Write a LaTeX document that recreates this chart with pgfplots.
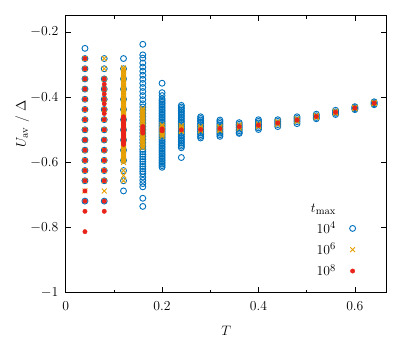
\documentclass[border=0pt]{standalone}
\usepackage{pgfplots}
\pgfplotsset{compat=1.18}
\usetikzlibrary{calc}
\definecolor{cblue}{RGB}{0,114,189}
\definecolor{corange}{RGB}{230,159,0}
\definecolor{cred}{RGB}{232,35,25}
\pgfplotsset{
  bl/.style={only marks, mark=o, mark size=2.6pt, color=cblue, line width=0.8pt},
  og/.style={only marks, mark=x, mark size=3pt, color=corange, line width=0.8pt},
  rd/.style={only marks, mark=*, mark size=1.9pt, color=cred},
}
\begin{document}
\begin{tikzpicture}[font=\fontsize{12.5}{15}\selectfont]
\begin{axis}[
  scale only axis,
  width=281pt, height=242.5pt,
  xmin=0, xmax=0.666, ymin=-1, ymax=-0.15,
  xtick={0,0.2,0.4,0.6}, minor xtick={0.1,0.3,0.5},
  ytick={-1,-0.8,-0.6,-0.4,-0.2},
  major tick length=5pt, minor tick length=2.6pt,
  tick style={line width=0.6pt, black},
  axis line style={line width=0.8pt},
  tick label style={font=\fontsize{12.5}{15}\selectfont},
  xticklabel style={yshift=-4.5pt},
  yticklabel style={xshift=-3pt},
  label style={font=\fontsize{12.5}{15}\selectfont},
  xlabel={$T$}, ylabel={$U_{\mathrm{av}}\ /\ \Delta$},
  xlabel style={at={(rel axis cs:0.5,0)}, anchor=center, yshift=-33pt},
  ylabel style={at={(rel axis cs:0,0.61)}, anchor=center, rotate=0, yshift=38pt},
  legend plot pos=right,
  legend cell align=right,
  legend style={draw=none, fill=none, at={(rel axis cs:1,0)}, anchor=south east,
    xshift=-24pt, yshift=9pt, row sep=3pt, font=\fontsize{12.5}{15}\selectfont,
    nodes={inner xsep=6pt}},
]
\coordinate (BL) at (rel axis cs:0,0);
\coordinate (TR) at (rel axis cs:1,1);
% 10^4
\addplot[bl, forget plot] coordinates {
(0.04,-0.25)(0.04,-0.28125)(0.04,-0.3125)(0.04,-0.34375)(0.04,-0.375)(0.04,-0.40625)(0.04,-0.4375)(0.04,-0.46875)(0.04,-0.5)(0.04,-0.53125)(0.04,-0.5625)(0.04,-0.59375)(0.04,-0.625)(0.04,-0.65625)(0.04,-0.71875)
(0.08,-0.28125)(0.08,-0.3125)(0.08,-0.34375)(0.08,-0.375)(0.08,-0.40625)(0.08,-0.4375)(0.08,-0.46875)(0.08,-0.5)(0.08,-0.53125)(0.08,-0.5625)(0.08,-0.59375)(0.08,-0.625)(0.08,-0.65625)(0.08,-0.71875)
(0.12,-0.28125)(0.12,-0.3125)(0.12,-0.34375)(0.12,-0.375)(0.12,-0.40625)(0.12,-0.4375)(0.12,-0.46875)(0.12,-0.5)(0.12,-0.53125)(0.12,-0.5625)(0.12,-0.59375)(0.12,-0.625)(0.12,-0.65625)(0.12,-0.6875)
(0.16,-0.2375)(0.16,-0.27)(0.16,-0.28)(0.16,-0.295)(0.16,-0.3075)(0.16,-0.32)(0.16,-0.3325)(0.16,-0.345)(0.16,-0.3575)(0.16,-0.37)(0.16,-0.3825)(0.16,-0.395)(0.16,-0.4075)(0.16,-0.42)(0.16,-0.43)(0.16,-0.44)(0.16,-0.45)(0.16,-0.46)(0.16,-0.47)(0.16,-0.48)(0.16,-0.49)(0.16,-0.5)(0.16,-0.51)(0.16,-0.52)(0.16,-0.53)(0.16,-0.54)(0.16,-0.55)(0.16,-0.56)(0.16,-0.5675)(0.16,-0.575)(0.16,-0.5825)(0.16,-0.59)(0.16,-0.5975)(0.16,-0.605)(0.16,-0.6125)(0.16,-0.62)(0.16,-0.6275)(0.16,-0.635)(0.16,-0.645)(0.16,-0.655)(0.16,-0.665)(0.16,-0.675)(0.16,-0.71)(0.16,-0.735)
(0.2,-0.357)(0.2,-0.386)(0.2,-0.395)(0.2,-0.405)(0.2,-0.41)(0.2,-0.415)(0.2,-0.42)(0.2,-0.425)(0.2,-0.43)(0.2,-0.435)(0.2,-0.44)(0.2,-0.445)(0.2,-0.45)(0.2,-0.455)(0.2,-0.46)(0.2,-0.465)(0.2,-0.47)(0.2,-0.475)(0.2,-0.48)(0.2,-0.485)(0.2,-0.49)(0.2,-0.495)(0.2,-0.5)(0.2,-0.505)(0.2,-0.51)(0.2,-0.515)(0.2,-0.52)(0.2,-0.525)(0.2,-0.53)(0.2,-0.535)(0.2,-0.54)(0.2,-0.545)(0.2,-0.55)(0.2,-0.555)(0.2,-0.56)(0.2,-0.565)(0.2,-0.57)(0.2,-0.575)(0.2,-0.58)(0.2,-0.585)(0.2,-0.59)(0.2,-0.595)(0.2,-0.6)(0.2,-0.605)(0.2,-0.61)(0.2,-0.615)
(0.24,-0.425)(0.24,-0.43)(0.24,-0.435)(0.24,-0.44)(0.24,-0.445)(0.24,-0.45)(0.24,-0.455)(0.24,-0.46)(0.24,-0.465)(0.24,-0.47)(0.24,-0.475)(0.24,-0.48)(0.24,-0.485)(0.24,-0.49)(0.24,-0.495)(0.24,-0.5)(0.24,-0.505)(0.24,-0.51)(0.24,-0.515)(0.24,-0.52)(0.24,-0.525)(0.24,-0.53)(0.24,-0.535)(0.24,-0.54)(0.24,-0.545)(0.24,-0.55)(0.24,-0.555)(0.24,-0.585)
(0.28,-0.46)(0.28,-0.465)(0.28,-0.47)(0.28,-0.475)(0.28,-0.48)(0.28,-0.485)(0.28,-0.49)(0.28,-0.495)(0.28,-0.5)(0.28,-0.505)(0.28,-0.51)(0.28,-0.515)(0.28,-0.52)(0.28,-0.525)
(0.32,-0.47)(0.32,-0.475)(0.32,-0.48)(0.32,-0.485)(0.32,-0.49)(0.32,-0.495)(0.32,-0.5)(0.32,-0.505)(0.32,-0.51)(0.32,-0.515)(0.32,-0.52)
(0.36,-0.478)(0.36,-0.483)(0.36,-0.488)(0.36,-0.493)(0.36,-0.498)(0.36,-0.503)(0.36,-0.508)(0.36,-0.511)
(0.4,-0.469)(0.4,-0.474)(0.4,-0.479)(0.4,-0.484)(0.4,-0.489)(0.4,-0.494)(0.4,-0.499)
(0.44,-0.469)(0.44,-0.474)(0.44,-0.479)(0.44,-0.484)(0.44,-0.49)
(0.48,-0.46)(0.48,-0.465)(0.48,-0.47)(0.48,-0.475)(0.48,-0.481)
(0.52,-0.452)(0.52,-0.457)(0.52,-0.462)(0.52,-0.466)
(0.56,-0.44)(0.56,-0.445)(0.56,-0.449)(0.56,-0.453)
(0.6,-0.429)(0.6,-0.432)(0.6,-0.435)(0.6,-0.438)
(0.64,-0.414)(0.64,-0.417)(0.64,-0.42)(0.64,-0.423)
};
% 10^6
\addplot[og, forget plot] coordinates {
(0.04,-0.28125)(0.04,-0.3125)(0.04,-0.34375)(0.04,-0.375)(0.04,-0.40625)(0.04,-0.4375)(0.04,-0.46875)(0.04,-0.5)(0.04,-0.53125)(0.04,-0.5625)(0.04,-0.59375)(0.04,-0.625)(0.04,-0.65625)(0.04,-0.6875)
(0.08,-0.28125)(0.08,-0.3125)(0.08,-0.34375)(0.08,-0.375)(0.08,-0.40625)(0.08,-0.4375)(0.08,-0.46875)(0.08,-0.5)(0.08,-0.53125)(0.08,-0.5625)(0.08,-0.59375)(0.08,-0.625)(0.08,-0.65625)(0.08,-0.6875)
(0.12,-0.31)(0.12,-0.315)(0.12,-0.32)(0.12,-0.325)(0.12,-0.33)(0.12,-0.335)(0.12,-0.34)(0.12,-0.345)(0.12,-0.35)(0.12,-0.355)(0.12,-0.36)(0.12,-0.365)(0.12,-0.37)(0.12,-0.375)(0.12,-0.38)(0.12,-0.385)(0.12,-0.39)(0.12,-0.395)(0.12,-0.4)(0.12,-0.405)(0.12,-0.41)(0.12,-0.415)(0.12,-0.42)(0.12,-0.425)(0.12,-0.43)(0.12,-0.435)(0.12,-0.44)(0.12,-0.445)(0.12,-0.45)(0.12,-0.455)(0.12,-0.46)(0.12,-0.465)(0.12,-0.47)(0.12,-0.475)(0.12,-0.48)(0.12,-0.485)(0.12,-0.49)(0.12,-0.495)(0.12,-0.5)(0.12,-0.505)(0.12,-0.51)(0.12,-0.515)(0.12,-0.52)(0.12,-0.525)(0.12,-0.53)(0.12,-0.535)(0.12,-0.54)(0.12,-0.545)(0.12,-0.55)(0.12,-0.555)(0.12,-0.56)(0.12,-0.565)(0.12,-0.57)(0.12,-0.575)(0.12,-0.58)(0.12,-0.585)(0.12,-0.59)(0.12,-0.595)(0.12,-0.6)(0.12,-0.625)(0.12,-0.64)(0.12,-0.656)
(0.16,-0.435)(0.16,-0.44)(0.16,-0.445)(0.16,-0.45)(0.16,-0.455)(0.16,-0.46)(0.16,-0.465)(0.16,-0.47)(0.16,-0.475)(0.16,-0.48)(0.16,-0.485)(0.16,-0.49)(0.16,-0.495)(0.16,-0.5)(0.16,-0.505)(0.16,-0.51)(0.16,-0.515)(0.16,-0.52)(0.16,-0.525)(0.16,-0.53)(0.16,-0.535)(0.16,-0.54)(0.16,-0.545)(0.16,-0.55)(0.16,-0.555)
(0.2,-0.485)(0.2,-0.49)(0.2,-0.495)(0.2,-0.5)(0.2,-0.505)(0.2,-0.51)(0.2,-0.515)(0.2,-0.52)
(0.24,-0.487)(0.24,-0.492)(0.24,-0.497)(0.24,-0.502)(0.24,-0.505)
(0.28,-0.49)(0.28,-0.495)(0.28,-0.5)(0.28,-0.503)
(0.32,-0.49)(0.32,-0.494)(0.32,-0.498)(0.32,-0.502)
(0.36,-0.485)(0.36,-0.49)(0.36,-0.495)
(0.4,-0.482)(0.4,-0.486)(0.4,-0.49)
(0.44,-0.475)(0.44,-0.479)(0.44,-0.483)
(0.48,-0.466)(0.48,-0.47)(0.48,-0.474)
(0.52,-0.456)(0.52,-0.459)(0.52,-0.462)
(0.56,-0.443)(0.56,-0.446)(0.56,-0.449)
(0.6,-0.431)(0.6,-0.433)(0.6,-0.435)
(0.64,-0.416)(0.64,-0.418)(0.64,-0.42)
};
% 10^8
\addplot[rd, forget plot] coordinates {
(0.04,-0.28125)(0.04,-0.3125)(0.04,-0.34375)(0.04,-0.375)(0.04,-0.40625)(0.04,-0.4375)(0.04,-0.46875)(0.04,-0.5)(0.04,-0.53125)(0.04,-0.5625)(0.04,-0.59375)(0.04,-0.625)(0.04,-0.65625)(0.04,-0.6875)(0.04,-0.71875)(0.04,-0.75)(0.04,-0.8125)
(0.08,-0.34375)(0.08,-0.36)(0.08,-0.375)(0.08,-0.39)(0.08,-0.40625)(0.08,-0.42)(0.08,-0.4375)(0.08,-0.45)(0.08,-0.46875)(0.08,-0.5)(0.08,-0.53125)(0.08,-0.5625)(0.08,-0.59375)(0.08,-0.625)(0.08,-0.65625)(0.08,-0.71875)(0.08,-0.75)
(0.12,-0.46)(0.12,-0.465)(0.12,-0.47)(0.12,-0.475)(0.12,-0.48)(0.12,-0.485)(0.12,-0.49)(0.12,-0.495)(0.12,-0.5)(0.12,-0.505)(0.12,-0.51)(0.12,-0.515)(0.12,-0.52)(0.12,-0.525)(0.12,-0.53)(0.12,-0.535)(0.12,-0.54)(0.12,-0.545)
(0.16,-0.49)(0.16,-0.495)(0.16,-0.5)(0.16,-0.505)(0.16,-0.51)
(0.2,-0.497)(0.2,-0.5)(0.2,-0.503)
(0.24,-0.5)(0.28,-0.499)(0.32,-0.496)(0.36,-0.49)(0.4,-0.486)(0.44,-0.479)(0.48,-0.47)(0.52,-0.459)(0.56,-0.446)(0.6,-0.433)(0.64,-0.418)
};
\addlegendimage{empty legend}
\addlegendentry{$t_{\max}$\hspace{-11pt}}
\addlegendimage{bl}
\addlegendentry{$10^4$}
\addlegendimage{og}
\addlegendentry{$10^6$}
\addlegendimage{rd}
\addlegendentry{$10^8$}
\end{axis}
\path ($(BL)+(-57.5pt,-44pt)$) rectangle ($(TR)+(21.3pt,13.8pt)$);
\end{tikzpicture}
\end{document}
